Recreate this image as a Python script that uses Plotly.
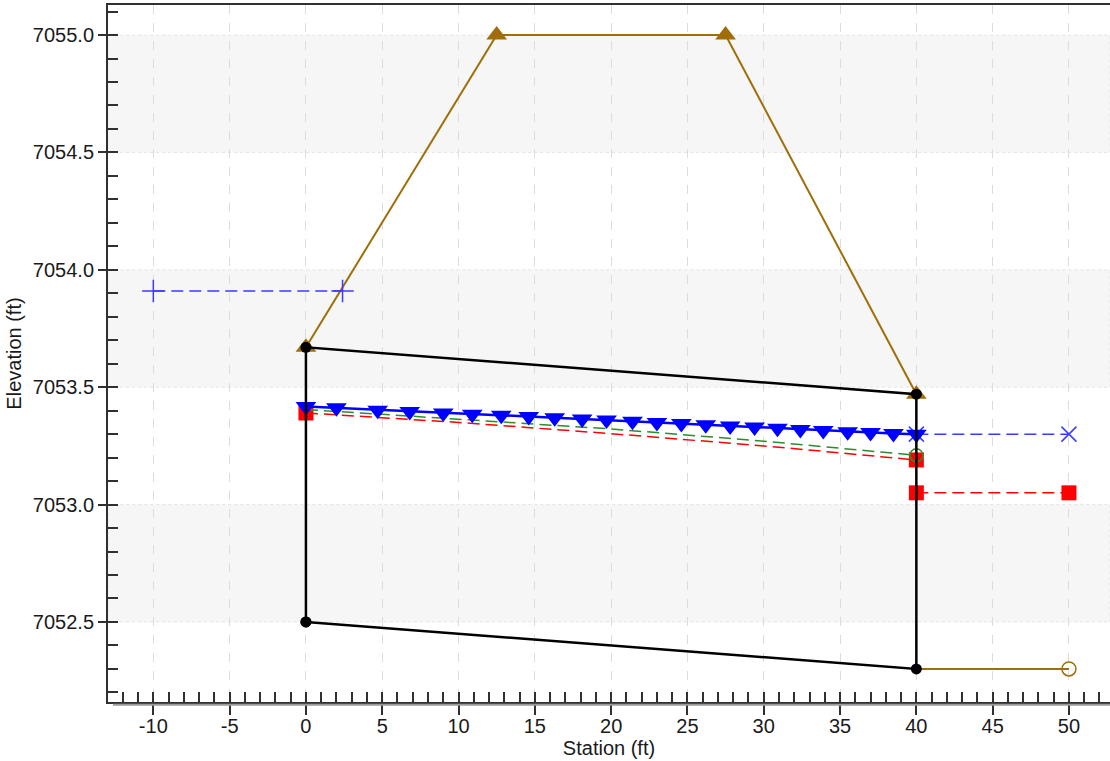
import plotly.graph_objects as go

# ---------------- data ----------------
# roadway / embankment profile (brown)
road_x = [0, 12.5, 27.5, 40]
road_y = [7053.67, 7055.0, 7055.0, 7053.47]

# tailwater channel bottom (brown, right)
outlet_x = [40, 50]
outlet_y = [7052.30, 7052.30]

# culvert barrel outline (black)
barrel_x = [0, 0, 40, 40, 0]
barrel_y = [7052.50, 7053.67, 7053.47, 7052.30, 7052.50]

# headwater (blue dashed, plus markers)
hw_x = [-10, 2.4]
hw_y = [7053.91, 7053.91]

# water surface profile (blue, inverted triangles)
wsp_x = [0, 2.0, 4.7, 6.8, 9.0, 10.9, 12.8, 14.6, 16.3, 18.1, 19.7, 21.4,
         23.0, 24.6, 26.2, 27.8, 29.4, 30.9, 32.4, 33.9, 35.5, 37.0, 38.5, 40.0]
wsp_y = [7053.418, 7053.412, 7053.402, 7053.396, 7053.390, 7053.385, 7053.380,
         7053.375, 7053.370, 7053.365, 7053.360, 7053.355, 7053.350, 7053.345,
         7053.340, 7053.335, 7053.330, 7053.325, 7053.320, 7053.315, 7053.310,
         7053.307, 7053.303, 7053.300]

# tailwater (blue dashed, x markers)
tw_x = [40, 50]
tw_y = [7053.30, 7053.30]

# critical depth (green dashed)
crit_x = [0, 10, 20, 30, 40]
crit_y = [7053.405, 7053.365, 7053.322, 7053.27, 7053.21]

# normal depth (red dashed)
norm_x = [0, 10, 20, 30, 40]
norm_y = [7053.39, 7053.35, 7053.302, 7053.25, 7053.19]

# channel critical (red dashed, squares)
chan_x = [40, 50]
chan_y = [7053.05, 7053.05]

# axis settings / tick labels
x_tickvals = [-10, -5, 0, 5, 10, 15, 20, 25, 30, 35, 40, 45, 50]
x_ticktext = ["-10", "-5", "0", "5", "10", "15", "20", "25", "30", "35", "40", "45", "50"]
x_range = [-12.97, 52.69]
y_range = [7052.159, 7055.128]
band_edges = [(7054.5, 7055.0), (7053.5, 7054.0), (7052.5, 7053.0)]

BROWN = "#A06E08"
BLUE = "#0000FF"
LBLUE = "#3b3bff"
RED = "#FF0000"
GREEN = "#2E8B2E"
DASH = "12px,6px"

fig = go.Figure()

# brown roadway
fig.add_trace(go.Scatter(x=road_x, y=road_y, mode="lines+markers",
                         line=dict(color=BROWN, width=2),
                         marker=dict(symbol="triangle-up", size=18, color=BROWN)))
fig.add_trace(go.Scatter(x=outlet_x, y=outlet_y, mode="lines",
                         line=dict(color=BROWN, width=2)))
fig.add_trace(go.Scatter(x=[outlet_x[1]], y=[outlet_y[1]], mode="markers",
                         marker=dict(symbol="circle-open", size=14, color=BROWN,
                                     line=dict(width=1.5, color=BROWN))))

# headwater
fig.add_trace(go.Scatter(x=hw_x, y=hw_y, mode="lines+markers",
                         line=dict(color=LBLUE, width=1.5, dash=DASH),
                         marker=dict(symbol="cross-thin", size=16,
                                     line=dict(width=1.5, color=LBLUE))))

# tailwater
fig.add_trace(go.Scatter(x=tw_x, y=tw_y, mode="lines+markers",
                         line=dict(color=LBLUE, width=1.5, dash=DASH),
                         marker=dict(symbol="x-thin", size=15,
                                     line=dict(width=1.5, color=LBLUE))))

# channel critical
fig.add_trace(go.Scatter(x=chan_x, y=chan_y, mode="lines+markers",
                         line=dict(color=RED, width=1.5, dash=DASH),
                         marker=dict(symbol="square", size=15, color=RED)))

# normal depth
fig.add_trace(go.Scatter(x=norm_x, y=norm_y, mode="lines",
                         line=dict(color=RED, width=1.5, dash=DASH)))
fig.add_trace(go.Scatter(x=[norm_x[0], norm_x[-1]], y=[norm_y[0], norm_y[-1]],
                         mode="markers",
                         marker=dict(symbol="square", size=15, color=RED)))

# critical depth
fig.add_trace(go.Scatter(x=crit_x, y=crit_y, mode="lines",
                         line=dict(color=GREEN, width=1.5, dash=DASH)))
fig.add_trace(go.Scatter(x=[crit_x[-1]], y=[crit_y[-1]], mode="markers",
                         marker=dict(symbol="circle-open", size=13, color=GREEN,
                                     line=dict(width=1.5, color=GREEN))))

# water surface profile
fig.add_trace(go.Scatter(x=wsp_x, y=wsp_y, mode="lines+markers",
                         line=dict(color=BLUE, width=2.5),
                         marker=dict(symbol="triangle-down", size=18, color=BLUE)))

# barrel
fig.add_trace(go.Scatter(x=barrel_x, y=barrel_y, mode="lines+markers",
                         line=dict(color="black", width=2.5),
                         marker=dict(symbol="circle", size=11, color="black")))

# shaded bands
shapes = []
for lo, hi in band_edges:
    shapes.append(dict(type="rect", xref="paper", yref="y", x0=0, x1=1,
                       y0=lo, y1=hi, fillcolor="#f6f6f6",
                       line=dict(color="#e4e4e4", width=1, dash="dot"),
                       layer="below"))
# shadow under x axis
shapes.append(dict(type="line", xref="paper", yref="paper", x0=0.005, x1=1,
                   y0=-0.004, y1=-0.004, line=dict(color="#9a9a9a", width=2)))

fig.update_layout(
    width=1110, height=761,
    margin=dict(l=108, r=0, t=5, b=59),
    plot_bgcolor="white", paper_bgcolor="white",
    showlegend=False,
    shapes=shapes,
    font=dict(family="Liberation Sans, Arial, sans-serif", size=20, color="#1a1a1a"),
    xaxis=dict(range=x_range, tickvals=x_tickvals, ticktext=x_ticktext,
               showgrid=True,
               gridcolor="#dcdcdc", griddash="dash", gridwidth=1,
               zeroline=False, showline=True, linecolor="#303030", linewidth=2,
               mirror=True,
               ticks="outside", ticklen=11, tickwidth=1.5, tickcolor="#303030",
               ticklabelstandoff=-6,
               minor=dict(dtick=1, tick0=0, ticks="inside", ticklen=10, tickwidth=1.5,
                          tickcolor="#303030", showgrid=False),
               title=dict(text="Station (ft)", font=dict(size=20), standoff=0),
               tickfont=dict(size=20)),
    yaxis=dict(range=y_range, tick0=7052.5, dtick=0.5, tickformat=".1f",
               showgrid=False, zeroline=False, showline=True,
               linecolor="#303030", linewidth=2,
               ticks="outside", ticklen=8, tickwidth=1.5, tickcolor="#303030",
               minor=dict(dtick=0.1, ticks="inside", ticklen=10, tickwidth=1.5,
                          tickcolor="#303030", showgrid=False),
               title=dict(text="Elevation (ft)", font=dict(size=20), standoff=6),
               tickfont=dict(size=20)),
)

fig.write_html("out.html", config={"displayModeBar": False},
               post_script="document.body.style.margin='0';")
